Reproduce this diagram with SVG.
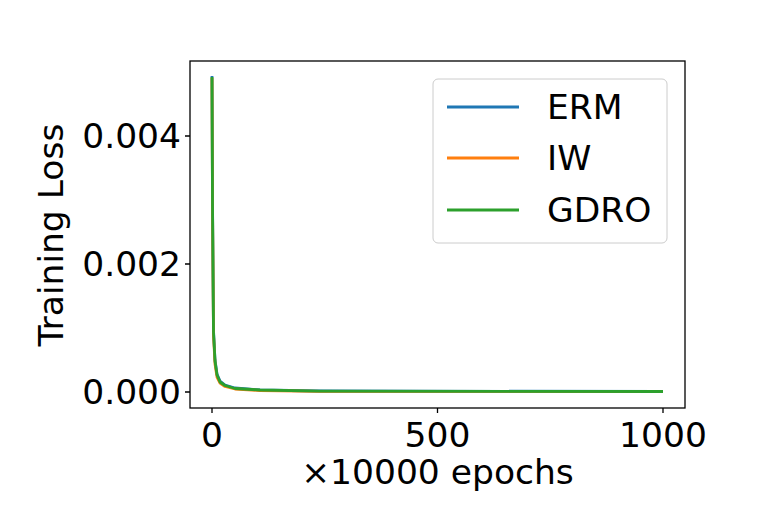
<svg xmlns="http://www.w3.org/2000/svg" width="761" height="508" viewBox="0 0 761 508">
<style>
text{font-family:"DejaVu Sans",sans-serif;font-size:34.5px;fill:#000}
.ax{stroke:#000;stroke-width:1.3;fill:none}
.c{fill:none;stroke-width:2.8;stroke-linejoin:round}
</style>
<rect width="761" height="508" fill="#fff"/>
<g id="axes">
<rect x="190" y="61" width="495" height="347" class="ax"/>
<path class="ax" d="M190 136h-5M190 264h-5M190 392h-5M212 408v5M437.5 408v5M663 408v5"/>
<text x="181" y="148" text-anchor="end">0.004</text>
<text x="181" y="276" text-anchor="end">0.002</text>
<text x="181" y="404" text-anchor="end">0.000</text>
<text x="212" y="447" text-anchor="middle">0</text>
<text x="437.5" y="447" text-anchor="middle">500</text>
<text x="663" y="447" text-anchor="middle">1000</text>
<text x="437.5" y="484" text-anchor="middle">×10000 epochs</text>
<text transform="translate(63 235) rotate(-90)" text-anchor="middle">Training Loss</text>
</g>
<g id="connectors">
<path class="c" stroke="#1f77b4" d="M212 76L212.5 200L213.5 330L215 360L217 374L220 381L225 385L235 388L260 390L320 391L663 391.5"/>
<path class="c" stroke="#ff7f0e" d="M212 78L212.5 205L213.5 335L215 364L217 377L220 383L225 386.5L235 389L260 390.5L320 391.3L663 391.6"/>
<path class="c" stroke="#2ca02c" d="M212 77L212.5 202L213.5 332L215 361L217 375L220 382L225 385.5L235 388.5L260 390L320 391.2L663 391.5"/>
</g>
<g id="legend">
<rect x="433" y="79" width="234" height="164" rx="5" fill="#fff" fill-opacity="0.8" stroke="#ccc" stroke-width="1"/>
<path stroke="#1f77b4" stroke-width="2.8" d="M447 107h72"/>
<path stroke="#ff7f0e" stroke-width="2.8" d="M447 158h72"/>
<path stroke="#2ca02c" stroke-width="2.8" d="M447 210h72"/>
<text x="547" y="119">ERM</text>
<text x="547" y="170">IW</text>
<text x="547" y="222">GDRO</text>
</g>
</svg>
